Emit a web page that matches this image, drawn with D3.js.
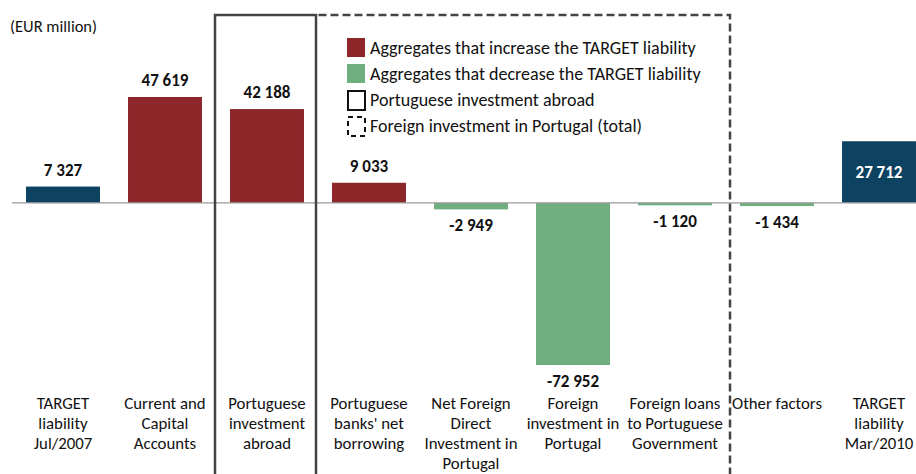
<!DOCTYPE html>
<html>
<head>
<meta charset="utf-8">
<script src="https://cdn.jsdelivr.net/npm/d3@7"></script>
<style>
  body { margin: 0; background: #fff; }
  text { font-family: Carlito, Lato, "Open Sans", sans-serif; fill: #111; }
</style>
</head>
<body>
<script>
var width = 916,
    height = 474;

// data
var categories = ['jul2007', 'current', 'ptAbroad', 'banks', 'fdi', 'foreignInv', 'loans', 'other', 'mar2010'];
var labels = [
  ['TARGET', 'liability', 'Jul/2007'],
  ['Current and', 'Capital', 'Accounts'],
  ['Portuguese', 'investment', 'abroad'],
  ['Portuguese', "banks' net", 'borrowing'],
  ['Net Foreign', 'Direct', 'Investment in', 'Portugal'],
  ['Foreign', 'investment in', 'Portugal'],
  ['Foreign loans', 'to Portuguese', 'Government'],
  ['Other factors'],
  ['TARGET', 'liability', 'Mar/2010']
];
var values = [7327, 47619, 42188, 9033, -2949, -72952, -1120, -1434, 27712];
var kinds = ['total', 'up', 'up', 'up', 'down', 'down', 'down', 'down', 'total'];
var legendItems = [
  'Aggregates that increase the TARGET liability',
  'Aggregates that decrease the TARGET liability',
  'Portuguese investment abroad',
  'Foreign investment in Portugal (total)'
];

var colors = {total: '#0e4261', up: '#8c2629', down: '#6fae7f'};

var svg = d3.select('body')
  .append('svg')
  .attr('width', width)
  .attr('height', height);

var x = d3.scaleBand()
  .domain(categories)
  .range([12, 930])
  .paddingInner(0.275)
  .paddingOuter(0.1375);

var y = d3.scaleLinear()
  .domain([-72952, 47619])
  .range([365, 97]);

var bw = x.bandwidth(),
    gap = x.step() - bw;

var rows = categories.map(function(c, i) {
  return {cat: c, value: values[i], kind: kinds[i], label: labels[i]};
});

// bars
svg.append('g')
  .selectAll('rect')
  .data(rows)
  .enter()
  .append('rect')
  .attr('x', function(d) { return x(d.cat); })
  .attr('y', function(d) { return y(Math.max(0, d.value)); })
  .attr('width', bw)
  .attr('height', function(d) { return Math.abs(y(d.value) - y(0)); })
  .attr('fill', function(d) { return colors[d.kind]; });

// baseline
svg.append('line')
  .attr('x1', 12).attr('x2', width)
  .attr('y1', y(0)).attr('y2', y(0))
  .attr('stroke', '#9a9a9a')
  .attr('stroke-width', 1.2);

// value labels, space as thousands separator and plain hyphen
function fmt(v) {
  return d3.format(',')(v).replace(/,/g, ' ').replace('\u2212', '-');
}

svg.append('g')
  .selectAll('text')
  .data(rows)
  .enter()
  .append('text')
  .attr('x', function(d) { return x(d.cat) + bw / 2; })
  .attr('y', function(d) {
    if (d.cat === 'mar2010') return (y(d.value) + y(0)) / 2 + 6;
    return d.value >= 0 ? y(d.value) - 11 : y(d.value) + 22;
  })
  .attr('text-anchor', 'middle')
  .style('font-size', '17px')
  .style('font-weight', 'bold')
  .style('fill', function(d) { return d.cat === 'mar2010' ? '#fff' : '#111'; })
  .text(function(d) { return fmt(d.value); });

// category labels
var catLabels = svg.append('g')
  .selectAll('text')
  .data(rows)
  .enter()
  .append('text')
  .attr('text-anchor', 'middle')
  .style('font-size', '16.8px');

catLabels.selectAll('tspan')
  .data(function(d) { return d.label.map(function(l) { return {cat: d.cat, t: l}; }); })
  .enter()
  .append('tspan')
  .attr('x', function(d) { return x(d.cat) + bw / 2; })
  .attr('y', function(d, i) { return 409 + i * 20; })
  .text(function(d) { return d.t; });

// unit
svg.append('text')
  .attr('x', 10)
  .attr('y', 32)
  .style('font-size', '16.5px')
  .text('(EUR million)');

// group boxes
var solidL = x('ptAbroad') - gap / 2 - 1,
    solidR = x('ptAbroad') + bw + gap / 2 - 2,
    dashL = solidR + 2.5,
    dashR = x('loans') + bw + gap / 2 + 4;

svg.append('path')
  .attr('d', 'M' + solidL + ',' + (height + 5) + 'V15H' + solidR + 'V' + (height + 5))
  .attr('fill', 'none')
  .attr('stroke', '#444')
  .attr('stroke-width', 2.5);

svg.append('path')
  .attr('d', 'M' + dashL + ',15H' + dashR + 'V' + (height + 5))
  .attr('fill', 'none')
  .attr('stroke', '#444')
  .attr('stroke-width', 2.5)
  .attr('stroke-dasharray', '8,4');

// legend
var legend = svg.append('g')
  .attr('transform', 'translate(347,38)');

var item = legend.selectAll('g')
  .data(legendItems)
  .enter()
  .append('g')
  .attr('transform', function(d, i) { return 'translate(0,' + (i * 26) + ')'; });

item.each(function(d, i) {
  var g = d3.select(this);
  if (i < 2) {
    g.append('rect')
      .attr('width', 18).attr('height', 19)
      .attr('fill', i === 0 ? colors.up : colors.down);
  } else {
    g.append('rect')
      .attr('x', 1).attr('y', 1)
      .attr('width', 17).attr('height', 19)
      .attr('fill', 'none')
      .attr('stroke', '#111')
      .attr('stroke-width', 2)
      .attr('stroke-dasharray', i === 3 ? '5,4' : null);
  }
});

item.append('text')
  .attr('x', 23)
  .attr('y', 15.5)
  .style('font-size', '18px')
  .text(function(d) { return d; });
</script>
</body>
</html>
